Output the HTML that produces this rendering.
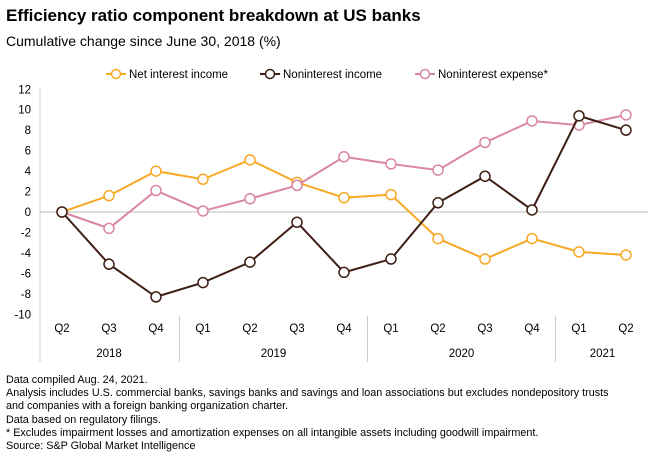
<!DOCTYPE html>
<html><head><meta charset="utf-8"><style>
body{margin:0;background:#fff;font-family:"Liberation Sans",sans-serif;}
.wrap{position:relative;width:660px;height:462px;overflow:hidden;}
.t{position:absolute;left:6px;top:6px;font-size:17px;font-weight:bold;color:#000;}
.s{position:absolute;left:6px;top:33px;font-size:14px;color:#000;}
.f{position:absolute;left:6px;top:374px;font-size:10.8px;line-height:13.2px;color:#000;white-space:nowrap;}
</style></head><body>
<div class="wrap">
<div class="t">Efficiency ratio component breakdown at US banks</div>
<div class="s">Cumulative change since June 30, 2018 (%)</div>
<svg id="chart" width="660" height="462" style="position:absolute;left:0;top:0"></svg>
<div class="f">Data compiled Aug. 24, 2021.<br>Analysis includes U.S. commercial banks, savings banks and savings and loan associations but excludes nondepository trusts<br>and companies with a foreign banking organization charter.<br>Data based on regulatory filings.<br>* Excludes impairment losses and amortization expenses on all intangible assets including goodwill impairment.<br>Source: S&amp;P Global Market Intelligence</div>
</div>
<script>
const quarters=["Q2","Q3","Q4","Q1","Q2","Q3","Q4","Q1","Q2","Q3","Q4","Q1","Q2"];
const years=["2018","2019","2020","2021"];
const yearSpans=[3,4,4,2];
const yTicks=[12,10,8,6,4,2,0,-2,-4,-6,-8,-10];
const netInterest=[0,1.6,4.0,3.2,5.1,2.9,1.4,1.7,-2.6,-4.6,-2.6,-3.9,-4.2];
const nonInterestIncome=[0,-5.1,-8.3,-6.9,-4.9,-1.0,-5.9,-4.6,0.9,3.5,0.2,9.4,8.0];
const nonInterestExpense=[0,-1.6,2.1,0.1,1.3,2.6,5.4,4.7,4.1,6.8,8.9,8.5,9.5];
const NS="http://www.w3.org/2000/svg";
const svg=document.getElementById('chart');
const x0=62,step=47;
function xs(i){return x0+i*step;}
function ys(v){return 212-v*(225/22);}
function el(tag,a,p){const e=document.createElementNS(NS,tag);for(const k in a)e.setAttribute(k,a[k]);(p||svg).appendChild(e);return e;}
let ax=el('line',{x1:40,y1:88,x2:40,y2:362,stroke:'#ccc'});


let z=el('line',{x1:40,y1:ys(0),x2:648,y2:ys(0),stroke:'#bbb'});


yTicks.forEach(v=>{const t=el('text',{x:31,y:ys(v)+4,'text-anchor':'end','font-size':'11.5',fill:'#000'});t.textContent=v;

});
quarters.forEach((q,i)=>{const t=el('text',{x:xs(i),y:332,'text-anchor':'middle','font-size':'11.5',fill:'#000'});t.textContent=q;

});
let idx=0;
years.forEach((y,k)=>{const s=idx,e=idx+yearSpans[k]-1;const t=el('text',{x:(xs(s)+xs(e))/2,y:357,'text-anchor':'middle','font-size':'11.5',fill:'#000'});t.textContent=y;


idx+=yearSpans[k];
if(k<years.length-1){const l=el('line',{x1:xs(idx)-step/2,y1:316,x2:xs(idx)-step/2,y2:362,stroke:'#ccc'});

}});
const series=[[netInterest,'#f9a825','net-interest-income'],[nonInterestExpense,'#d9869f','noninterest-expense'],[nonInterestIncome,'#3d1f14','noninterest-income']];
series.forEach(([d,c,n])=>{const g=el('g',{});


el('polyline',{points:d.map((v,i)=>xs(i)+','+ys(v)).join(' '),fill:'none',stroke:c,'stroke-width':2},g);
d.forEach((v,i)=>{const p=el('circle',{cx:xs(i),cy:ys(v),r:5,fill:'#fff',stroke:c,'stroke-width':1.5},g);

});});
const legend=[['Net interest income','#f9a825',106],['Noninterest income','#3d1f14',260],['Noninterest expense*','#d9869f',415]];
legend.forEach(([lab,c,x])=>{const g=el('g',{});


el('line',{x1:x,y1:74,x2:x+20,y2:74,stroke:c,'stroke-width':2},g);
el('circle',{cx:x+10,cy:74,r:4.5,fill:'#fff',stroke:c,'stroke-width':1.5},g);
const t=el('text',{x:x+23,y:78,'font-size':'11.5',fill:'#000'},g);t.textContent=lab;});
</script>
</body></html>
